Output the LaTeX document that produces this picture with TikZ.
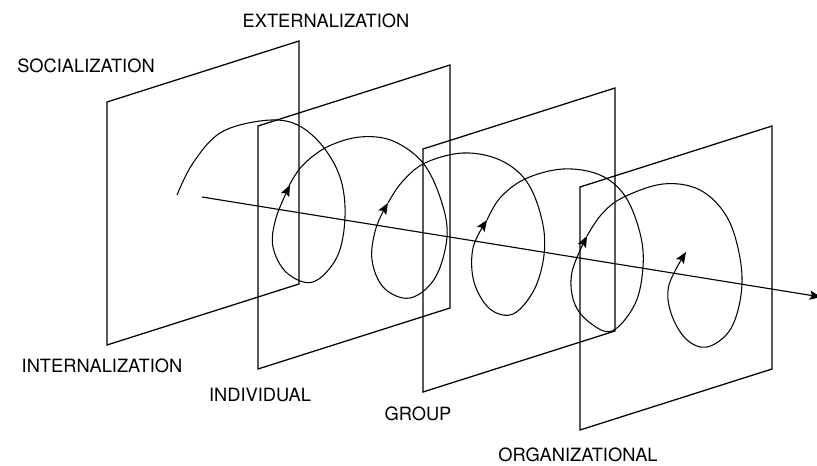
\documentclass[tikz,border=0pt]{standalone}
\usepackage{fontspec}
\setmainfont{TeX Gyre Heros}
\usetikzlibrary{arrows.meta}

\begin{document}
\begin{tikzpicture}[
    x=0.025cm, y=-0.025cm,
    % Define plane style
    plane/.style={line width=0.9pt, line join=miter},
    % Define spiral and axis styles
    spiral/.style={line width=0.75pt, -{Stealth[length=8pt, width=6.5pt, inset=1.5pt]}},
    axis/.style={line width=0.8pt, -{Stealth[length=8pt, width=6.5pt, inset=1.5pt]}},
    tag/.style={inner sep=0pt, font=\fontsize{13}{15}\selectfont}
]
\useasboundingbox (0,0) rectangle (817,466);

% Common plane size (pixels of the sketch)
\def\planew{192}
\def\planeh{243}
\def\planerise{61}

% Plane 1: socialization / internalization
\begin{scope}[shift={(107,102)}]
    \draw[plane] (0,\planeh) -- (0,0) -- (\planew,-\planerise) -- (\planew,\planeh-\planerise) -- cycle;
\end{scope}
\node[tag] (social) at (86,66) {SOCIALIZATION};
\node[tag] (internal) at (102,366) {INTERNALIZATION};

% Plane 2: individual
\begin{scope}[shift={(258,126)}]
    \draw[plane] (0,\planeh) -- (0,0) -- (\planew,-\planerise) -- (\planew,\planeh-\planerise) -- cycle;
\end{scope}
\node[tag] (external) at (326,21) {EXTERNALIZATION};
\node[tag] (individual) at (260,395) {INDIVIDUAL};

% Plane 3: group
\begin{scope}[shift={(423,149)}]
    \draw[plane] (0,\planeh) -- (0,0) -- (\planew,-\planerise) -- (\planew,\planeh-\planerise) -- cycle;
\end{scope}
\node[tag] (group) at (418,414) {GROUP};

% Plane 4: organizational
\begin{scope}[shift={(580,187)}]
    \draw[plane] (0,\planeh) -- (0,0) -- (\planew,-\planerise) -- (\planew,\planeh-\planerise) -- cycle;
\end{scope}
\node[tag] (organizational) at (578,455) {ORGANIZATIONAL};

% Axis through the planes
\coordinate (axis start) at (202,197);
\coordinate (axis end) at (821,297);
\draw[axis] (axis start) -- (axis end);

% Spiral, one loop per plane
\draw[spiral] plot[smooth, tension=0.6] coordinates {(177,195) (193,163) (220,133) (260,121) (293,123) (320,143) (340,177) (345,217) (337,257) (313,282) (287,273) (273,247) (276,218) (290,185)};
\draw[spiral] plot[smooth, tension=0.6] coordinates {(289,186) (302,166) (327,147) (360,137) (393,141) (423,163) (441,200) (447,237) (435,278) (410,298) (384,288) (372,260) (376,228) (388,203)};
\draw[spiral] plot[smooth, tension=0.6] coordinates {(388,203) (402,182) (425,163) (463,153) (500,160) (527,182) (542,220) (544,255) (534,290) (513,314) (490,309) (474,282) (473,248) (487,220)};
\draw[spiral] plot[smooth, tension=0.6] coordinates {(487,220) (500,198) (525,179) (563,169) (600,175) (625,196) (640,233) (643,267) (635,304) (612,331) (589,322) (574,302) (572,272) (587,236)};
\draw[spiral] plot[smooth, tension=0.6] coordinates {(587,236) (601,215) (622,198) (663,184) (700,190) (727,217) (740,258) (741,295) (730,330) (707,347) (686,339) (671,313) (669,285) (686,252)};

\end{tikzpicture}
\end{document}
